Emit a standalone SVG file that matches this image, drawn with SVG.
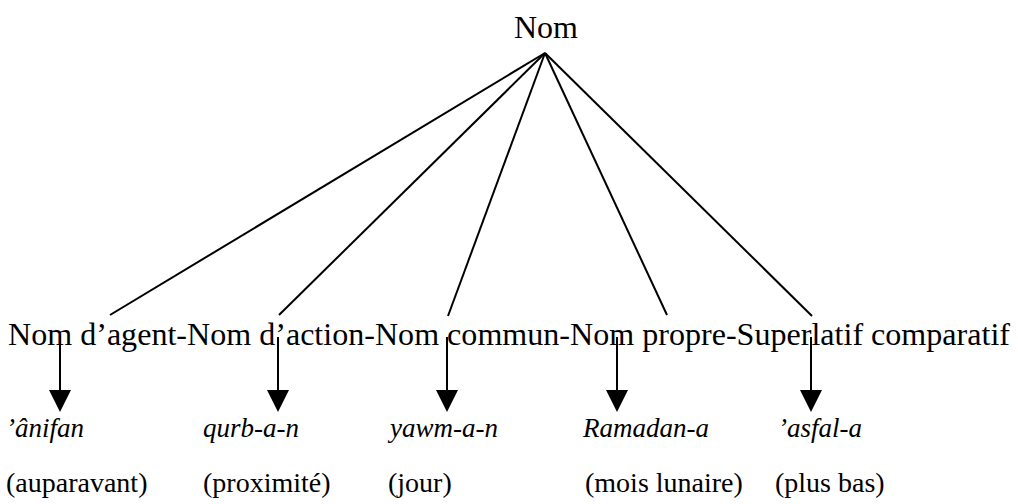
<svg xmlns="http://www.w3.org/2000/svg" width="1018" height="504" viewBox="0 0 1018 504">
<defs>
<style>
text{font-family:"Liberation Serif","Times New Roman",serif;fill:#000}
.top{font-size:32px}
.row{font-size:32px}
.it{font-size:27px;font-style:italic}
.gl{font-size:28px}
.fan{stroke:#000;stroke-width:2;fill:none}
.shaft{stroke:#000;stroke-width:2;fill:none}
</style>
</defs>
<rect width="1018" height="504" fill="#fff"/>
<g id="root"><text class="top" x="546" y="38" text-anchor="middle">Nom</text></g>
<g id="categories"><text class="row" x="8" y="345" textLength="1002" lengthAdjust="spacingAndGlyphs">Nom d’agent-Nom d’action-Nom commun-Nom propre-Superlatif comparatif</text></g>
<g id="ex1"><text class="it" x="6" y="437">’ânifan</text><text class="gl" x="6" y="492">(auparavant)</text></g>
<g id="ex2"><text class="it" x="203" y="437">qurb-a-n</text><text class="gl" x="203" y="492">(proximité)</text></g>
<g id="ex3"><text class="it" x="390" y="437">yawm-a-n</text><text class="gl" x="388" y="492">(jour)</text></g>
<g id="ex4"><text class="it" x="583" y="437">Ramadan-a</text><text class="gl" x="585" y="492">(mois lunaire)</text></g>
<g id="ex5"><text class="it" x="778" y="437">’asfal-a</text><text class="gl" x="775" y="492">(plus bas)</text></g>
<g id="connectors">
<line class="fan" x1="545" y1="53" x2="110" y2="315"/>
<line class="fan" x1="545" y1="53" x2="279" y2="315"/>
<line class="fan" x1="545" y1="53" x2="448" y2="316"/>
<line class="fan" x1="545" y1="53" x2="667" y2="315"/>
<line class="fan" x1="545" y1="53" x2="812" y2="316"/>
</g>
<g id="arrows">
<path class="shaft" d="M60,337 V390"/><path d="M49,390 H71 L60,412 Z"/>
<path class="shaft" d="M278,337 V390"/><path d="M267,390 H289 L278,412 Z"/>
<path class="shaft" d="M447,337 V390"/><path d="M436,390 H458 L447,412 Z"/>
<path class="shaft" d="M617,337 V390"/><path d="M606,390 H628 L617,412 Z"/>
<path class="shaft" d="M811,337 V390"/><path d="M800,390 H822 L811,412 Z"/>
</g>
</svg>
